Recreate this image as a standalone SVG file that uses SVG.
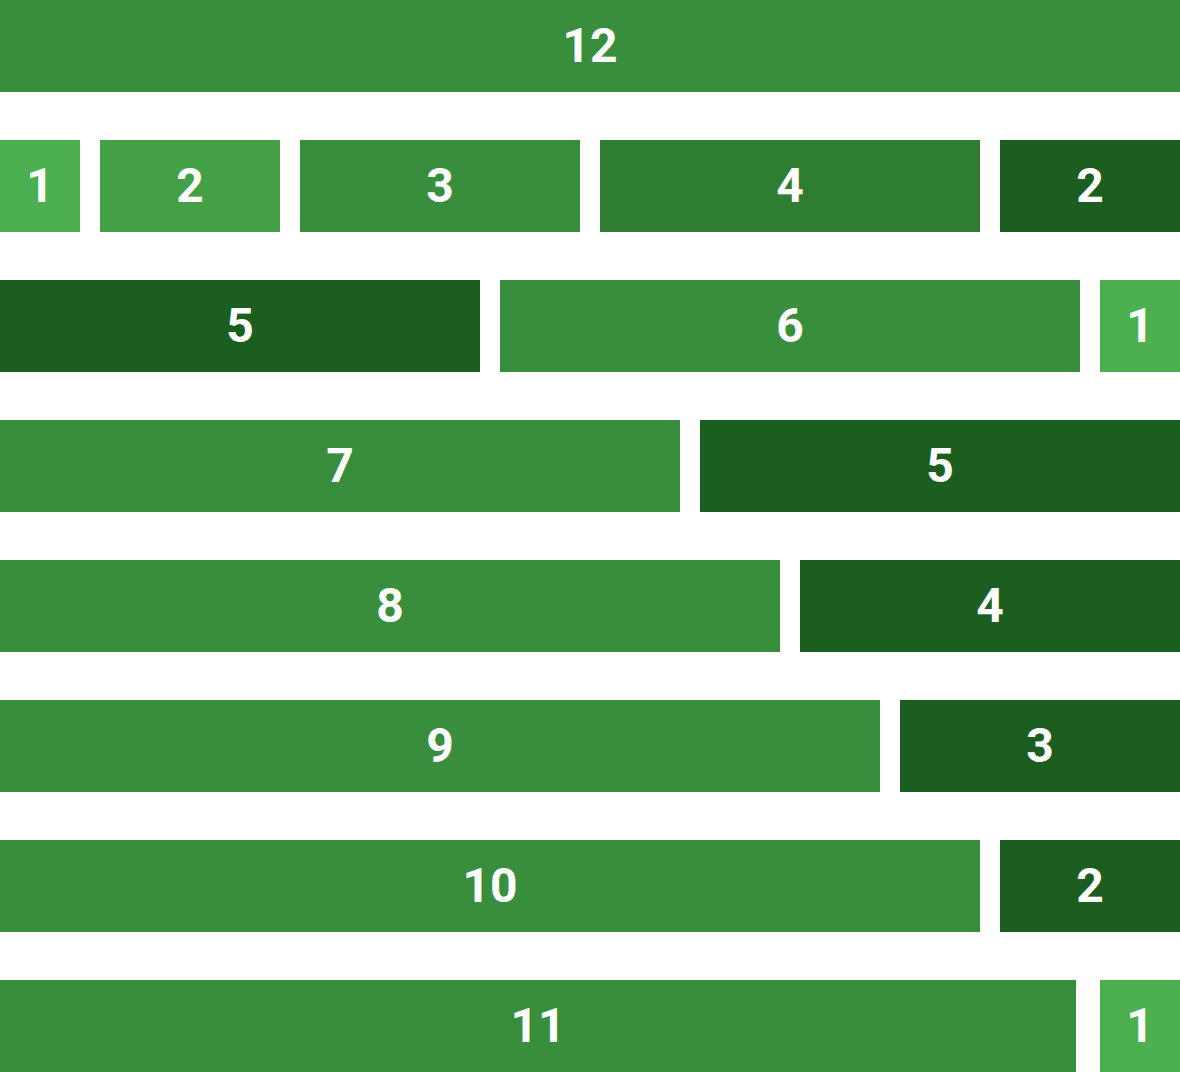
<svg xmlns="http://www.w3.org/2000/svg" width="1180" height="1072" viewBox="0 0 1180 1072">
<style>
.c1{fill:#4CAF50}.c2{fill:#43A047}.c3{fill:#388E3C}.c4{fill:#2E7D32}.c5{fill:#1B5E20}
text{font-family:Roboto,"Liberation Sans",sans-serif;font-weight:bold;font-size:48px;fill:#fff;text-anchor:middle}
</style>
<rect width="1180" height="1072" fill="#fff"/>
<g id="r1-12"><rect class="c3" x="0" y="0" width="1180" height="92"/><text x="590" y="62">12</text></g>
<g id="r2-1"><rect class="c1" x="0" y="140" width="80" height="92"/><text x="40" y="202">1</text></g>
<g id="r2-2"><rect class="c2" x="100" y="140" width="180" height="92"/><text x="190" y="202">2</text></g>
<g id="r2-3"><rect class="c3" x="300" y="140" width="280" height="92"/><text x="440" y="202">3</text></g>
<g id="r2-4"><rect class="c4" x="600" y="140" width="380" height="92"/><text x="790" y="202">4</text></g>
<g id="r2-2b"><rect class="c5" x="1000" y="140" width="180" height="92"/><text x="1090" y="202">2</text></g>
<g id="r3-5"><rect class="c5" x="0" y="280" width="480" height="92"/><text x="240" y="342">5</text></g>
<g id="r3-6"><rect class="c3" x="500" y="280" width="580" height="92"/><text x="790" y="342">6</text></g>
<g id="r3-1"><rect class="c1" x="1100" y="280" width="80" height="92"/><text x="1140" y="342">1</text></g>
<g id="r4-7"><rect class="c3" x="0" y="420" width="680" height="92"/><text x="340" y="482">7</text></g>
<g id="r4-5"><rect class="c5" x="700" y="420" width="480" height="92"/><text x="940" y="482">5</text></g>
<g id="r5-8"><rect class="c3" x="0" y="560" width="780" height="92"/><text x="390" y="622">8</text></g>
<g id="r5-4"><rect class="c5" x="800" y="560" width="380" height="92"/><text x="990" y="622">4</text></g>
<g id="r6-9"><rect class="c3" x="0" y="700" width="880" height="92"/><text x="440" y="762">9</text></g>
<g id="r6-3"><rect class="c5" x="900" y="700" width="280" height="92"/><text x="1040" y="762">3</text></g>
<g id="r7-10"><rect class="c3" x="0" y="840" width="980" height="92"/><text x="490" y="902">10</text></g>
<g id="r7-2"><rect class="c5" x="1000" y="840" width="180" height="92"/><text x="1090" y="902">2</text></g>
<g id="r8-11"><rect class="c3" x="0" y="980" width="1076" height="92"/><text x="538" y="1042">11</text></g>
<g id="r8-1"><rect class="c1" x="1100" y="980" width="80" height="92"/><text x="1140" y="1042">1</text></g>
<g id="connectors"></g>
</svg>
